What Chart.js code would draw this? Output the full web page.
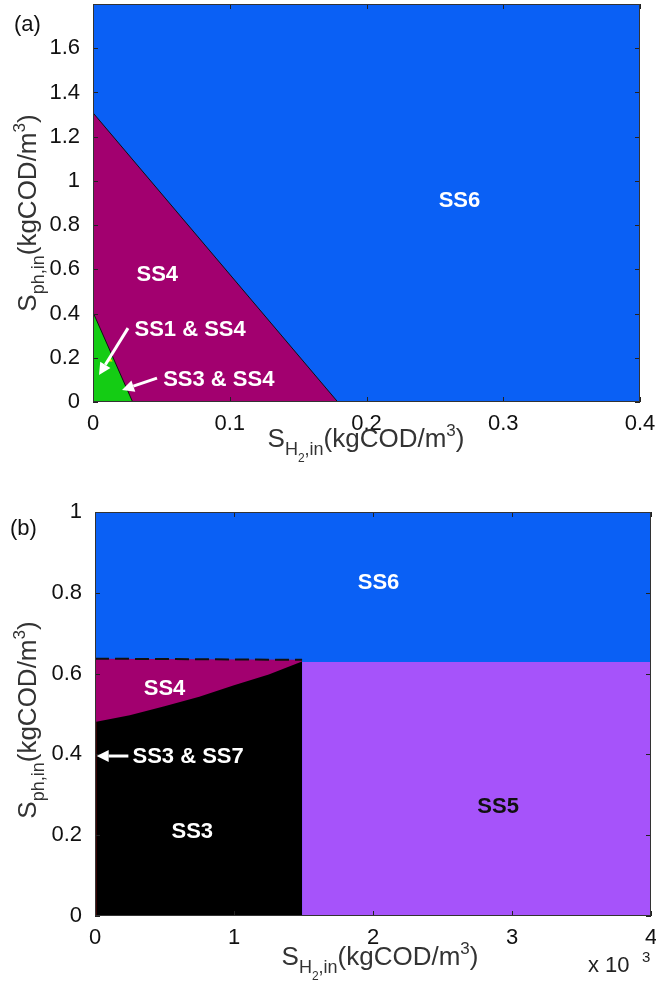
<!DOCTYPE html>
<html>
<head>
<meta charset="utf-8">
<script src="https://cdn.jsdelivr.net/npm/chart.js@4.4.0/dist/chart.umd.min.js"></script>
<style>
  body { margin: 0; background: #fff; width: 656px; height: 992px; position: relative; overflow: hidden; }
  canvas { position: absolute; left: 0; }
  #chartA { top: 0; }
  #chartB { top: 480px; }
</style>
</head>
<body>
<canvas id="chartA" width="656" height="476"></canvas>
<canvas id="chartB" width="656" height="512"></canvas>
<script>
// ---- panel (a) ----
const aXTicks = [0, 0.1, 0.2, 0.3, 0.4];
const aXTickLabels = ["0", "0.1", "0.2", "0.3", "0.4"];
const aYTicks = [0, 0.2, 0.4, 0.6, 0.8, 1, 1.2, 1.4, 1.6];
const aYTickLabels = ["0", "0.2", "0.4", "0.6", "0.8", "1", "1.2", "1.4", "1.6"];
const aSS6x = [0, 0.4];
const aSS6y = [1.8, 1.8];
const aSS4x = [0, 0.179];
const aSS4y = [1.308, 0];
const aSS34x = [0, 0.029];
const aSS34y = [0.406, 0];
const aSS14x = [0.0124];
const aSS14y = [0.19];
const aLabels = [
  { text: "SS6", x: 0.268, y: 0.91, color: "#fff" },
  { text: "SS4", x: 0.047, y: 0.573, color: "#fff" },
  { text: "SS1 & SS4", x: 0.071, y: 0.325, color: "#fff" },
  { text: "SS3 & SS4", x: 0.092, y: 0.099, color: "#fff" }
];
const aArrows = [
  { from: [0.0256, 0.334], to: [0.0044, 0.122] },
  { from: [0.0468, 0.108], to: [0.0212, 0.054] }
];

// ---- panel (b) ---- (x in units of 10^-3 kgCOD/m3)
const bXTicks = [0, 1, 2, 3, 4];
const bXTickLabels = ["0", "1", "2", "3", "4"];
const bYTicks = [0, 0.2, 0.4, 0.6, 0.8, 1];
const bYTickLabels = ["0", "0.2", "0.4", "0.6", "0.8", "1"];
const bSS6x = [0, 4];
const bSS6y = [1, 1];
const bSS5x = [1.49, 4];
const bSS5y = [0.629, 0.629];
const bSS4x = [0, 1.49];
const bSS4y = [0.637, 0.634];
const bSS3x = [0, 0.25, 0.5, 0.75, 1.0, 1.25, 1.49];
const bSS3y = [0.480, 0.497, 0.519, 0.543, 0.571, 0.598, 0.630];
const bSS37x = [0, 0];
const bSS37y = [0, 0.48];
const bLabels = [
  { text: "SS6", x: 2.04, y: 0.824, color: "#fff" },
  { text: "SS4", x: 0.5, y: 0.562, color: "#fff" },
  { text: "SS3 & SS7", x: 0.67, y: 0.394, color: "#fff" },
  { text: "SS3", x: 0.70, y: 0.208, color: "#fff" },
  { text: "SS5", x: 2.9, y: 0.27, color: "#111" }
];
const bArrows = [
  { from: [0.24, 0.396], to: [0.012, 0.396] }
];

Chart.defaults.font.family = "'Liberation Sans', Arial, sans-serif";
Chart.defaults.color = "#111";

function pts(xs, ys) {
  return xs.map((x, i) => ({ x: x, y: ys[i] }));
}

function area(xs, ys, color, order, border) {
  return {
    data: pts(xs, ys),
    showLine: true,
    fill: "origin",
    backgroundColor: color,
    borderColor: border || color,
    borderWidth: border ? 1 : 0,
    pointRadius: 0,
    order: order
  };
}

function axis(min, max, ticks, labels, pad, fitSize, isX) {
  return {
    type: "linear",
    min: min,
    max: max,
    grid: { display: false },
    border: { display: false },
    afterBuildTicks: (s) => { s.ticks = ticks.map(v => ({ value: v })); },
    afterFit: (s) => {
      if (isX) s.height = fitSize; else s.width = fitSize;
      s.paddingTop = s.paddingBottom = s.paddingLeft = s.paddingRight = 0;
    },
    ticks: {
      padding: pad,
      maxRotation: 0,
      autoSkip: false,
      font: { size: 22 },
      color: "#111",
      callback: (v) => labels[ticks.indexOf(v)]
    }
  };
}

function drawParts(ctx, parts, x, y) {
  let w = 0;
  parts.forEach(p => { ctx.font = p[1] + "px 'Liberation Sans', Arial"; w += ctx.measureText(p[0]).width; });
  let cx = x - w / 2;
  ctx.textAlign = "left";
  ctx.textBaseline = "alphabetic";
  parts.forEach(p => {
    ctx.font = p[1] + "px 'Liberation Sans', Arial";
    ctx.fillText(p[0], cx, y + p[2]);
    cx += ctx.measureText(p[0]).width;
  });
}

function arrow(ctx, x1, y1, x2, y2) {
  const ang = Math.atan2(y2 - y1, x2 - x1);
  const hl = 12, hw = 6;
  const bx = x2 - hl * Math.cos(ang), by = y2 - hl * Math.sin(ang);
  ctx.strokeStyle = "#fff";
  ctx.fillStyle = "#fff";
  ctx.lineWidth = 3;
  ctx.beginPath();
  ctx.moveTo(x1, y1);
  ctx.lineTo(bx, by);
  ctx.stroke();
  ctx.beginPath();
  ctx.moveTo(x2, y2);
  ctx.lineTo(bx + hw * Math.sin(ang), by - hw * Math.cos(ang));
  ctx.lineTo(bx - hw * Math.sin(ang), by + hw * Math.cos(ang));
  ctx.closePath();
  ctx.fill();
}

const xTitleParts = [["S", 26, 0], ["H", 18, 8], ["2", 12, 15], [",in", 18, 8], ["(kgCOD/m", 26, 0], ["3", 17, -11], [")", 26, 0]];
const yTitleParts = [["S", 26, 0], ["ph,in", 18, 8], ["(kgCOD/m", 26, 0], ["3", 17, -11], [")", 26, 0]];

function decor(cfg) {
  return {
    id: "decor",
    afterDatasetsDraw(chart) {
      const ctx = chart.ctx, a = chart.chartArea;
      const xs = chart.scales.x, ys = chart.scales.y;
      ctx.save();
      // tick marks (inside, all four sides)
      ctx.strokeStyle = "#222";
      ctx.lineWidth = 1;
      ctx.beginPath();
      cfg.xTicks.forEach(v => {
        const px = Math.round(xs.getPixelForValue(v)) + 0.5;
        ctx.moveTo(px, a.bottom); ctx.lineTo(px, a.bottom - 5);
        ctx.moveTo(px, a.top); ctx.lineTo(px, a.top + 5);
      });
      cfg.yTicks.forEach(v => {
        const py = Math.round(ys.getPixelForValue(v)) + 0.5;
        ctx.moveTo(a.left, py); ctx.lineTo(a.left + 5, py);
        ctx.moveTo(a.right, py); ctx.lineTo(a.right - 5, py);
      });
      ctx.stroke();
      ctx.strokeStyle = "#333";
      ctx.strokeRect(a.left + 0.5, a.top + 0.5, a.right - a.left - 1, a.bottom - a.top - 1);
      // arrows
      cfg.arrows.forEach(r => {
        arrow(ctx, xs.getPixelForValue(r.from[0]), ys.getPixelForValue(r.from[1]),
          xs.getPixelForValue(r.to[0]), ys.getPixelForValue(r.to[1]));
      });
      // region labels
      ctx.font = "bold 22px 'Liberation Sans', Arial";
      ctx.textAlign = "center";
      ctx.textBaseline = "middle";
      cfg.labels.forEach(l => {
        ctx.fillStyle = l.color;
        ctx.fillText(l.text, xs.getPixelForValue(l.x), ys.getPixelForValue(l.y));
      });
      ctx.restore();
    },
    afterDraw(chart) {
      const ctx = chart.ctx;
      ctx.save();
      ctx.fillStyle = "#111";
      ctx.font = "22px 'Liberation Sans', Arial";
      ctx.textAlign = "left";
      ctx.textBaseline = "alphabetic";
      ctx.fillText(cfg.letter, cfg.letterPos[0], cfg.letterPos[1]);
      ctx.fillStyle = "#333";
      drawParts(ctx, xTitleParts, cfg.xTitle[0], cfg.xTitle[1]);
      ctx.save();
      ctx.translate(cfg.yTitle[0], cfg.yTitle[1]);
      ctx.rotate(-Math.PI / 2);
      drawParts(ctx, yTitleParts, 0, 0);
      ctx.restore();
      if (cfg.exponent) {
        ctx.fillStyle = "#222";
        ctx.font = "22px 'Liberation Sans', Arial";
        ctx.fillText("x 10", cfg.exponent[0], cfg.exponent[1]);
        ctx.font = "15px 'Liberation Sans', Arial";
        ctx.fillText("3", cfg.exponent[0] + 54, cfg.exponent[1] - 10);
      }
      ctx.restore();
    }
  };
}

const baseOptions = {
  responsive: false,
  animation: false,
  plugins: { legend: { display: false }, tooltip: { enabled: false } }
};

new Chart(document.getElementById("chartA"), {
  type: "scatter",
  data: {
    datasets: [
      area(aSS6x, aSS6y, "#0a60f5", 10),
      area(aSS4x, aSS4y, "#a2006f", 8, "#111"),
      area(aSS34x, aSS34y, "#14cc14", 6, "#111"),
      { data: pts(aSS14x, aSS14y), pointStyle: "triangle", pointRadius: 3, backgroundColor: "#f2e000", borderWidth: 0, order: 4 }
    ]
  },
  options: Object.assign({}, baseOptions, {
    layout: { padding: { top: 3, right: 16, left: 0, bottom: 0 } },
    scales: {
      x: axis(0, 0.4, aXTicks, aXTickLabels, 1, 74, true),
      y: axis(0, 1.8, aYTicks, aYTickLabels, 5, 93, false)
    }
  }),
  plugins: [decor({
    xTicks: aXTicks, yTicks: aYTicks, labels: aLabels, arrows: aArrows,
    letter: "(a)", letterPos: [14, 31],
    xTitle: [366, 447], yTitle: [36, 213]
  })]
});

new Chart(document.getElementById("chartB"), {
  type: "scatter",
  data: {
    datasets: [
      area(bSS6x, bSS6y, "#0a60f5", 10),
      area(bSS5x, bSS5y, "#a653fa", 8),
      area(bSS4x, bSS4y, "#a2006f", 8),
      area(bSS3x, bSS3y, "#000000", 6),
      { data: pts(bSS4x, bSS4y), showLine: true, fill: false, borderColor: "#111", borderWidth: 2, borderDash: [14, 6], pointRadius: 0, order: 2 },
      { data: pts(bSS37x, bSS37y), showLine: true, fill: false, borderColor: "#6a0606", borderWidth: 3, pointRadius: 0, order: 1 }
    ]
  },
  options: Object.assign({}, baseOptions, {
    layout: { padding: { top: 32, right: 5, left: 0, bottom: 0 } },
    scales: {
      x: axis(0, 4, bXTicks, bXTickLabels, 1, 76, true),
      y: axis(0, 1, bYTicks, bYTickLabels, 5, 95, false)
    }
  }),
  plugins: [decor({
    xTicks: bXTicks, yTicks: bYTicks, labels: bLabels, arrows: bArrows,
    letter: "(b)", letterPos: [10, 55],
    xTitle: [380, 485], yTitle: [36, 240],
    exponent: [588, 492]
  })]
});
</script>
</body>
</html>
